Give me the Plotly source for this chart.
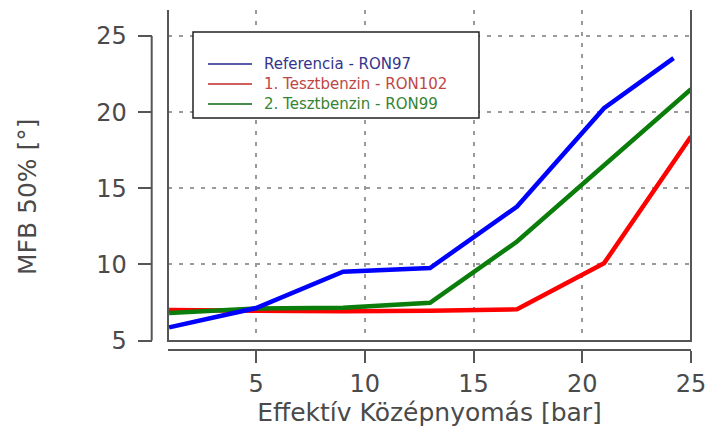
import plotly.graph_objects as go

# ---- data ----
series_names = ["Referencia - RON97", "1. Tesztbenzin - RON102", "2. Tesztbenzin - RON99"]
x_ref = [1, 5, 9, 13, 17, 21, 24.2]
y_ref = [5.86, 7.13, 9.52, 9.76, 13.8, 20.26, 23.55]
x_t1 = [1, 5, 9, 13, 17, 21, 25]
y_t1 = [7.0, 6.95, 6.92, 6.95, 7.05, 10.07, 18.4]
x_t2 = [1, 5, 9, 13, 17, 21, 25]
y_t2 = [6.8, 7.1, 7.15, 7.48, 11.5, 16.5, 21.5]
x_ticks = [5, 10, 15, 20, 25]
y_ticks = [5, 10, 15, 20, 25]
x_title = "Effektív Középnyomás [bar]"
y_title = "MFB 50% [°]"

W, H = 708, 435
def px(v):
    return v / W
def py(v):
    return 1 - v / H

line_colors = ["#0000ff", "#ff0000", "#0a7d0a"]
legend_line_colors = ["#5a5aa8", "#d06060", "#4a8a4a"]
legend_text_colors = ["#34348c", "#c04646", "#348434"]
FONT = "DejaVu Sans"
AX = "#555555"
TXT = "#4a4a4a"

fig = go.Figure()
fig.add_trace(go.Scatter(x=x_t1, y=y_t1, mode="lines", name=series_names[1],
                         line=dict(color=line_colors[1], width=4.5)))
fig.add_trace(go.Scatter(x=x_t2, y=y_t2, mode="lines", name=series_names[2],
                         line=dict(color=line_colors[2], width=4.5)))
fig.add_trace(go.Scatter(x=x_ref, y=y_ref, mode="lines", name=series_names[0],
                         line=dict(color=line_colors[0], width=4.5)))

grid = dict(showgrid=True, gridcolor="#9a9a9a", gridwidth=2, griddash="4px,7px")

fig.update_layout(
    width=W, height=H,
    margin=dict(l=0, r=0, t=0, b=0),
    paper_bgcolor="white", plot_bgcolor="white",
    showlegend=False,
    font=dict(family=FONT, color=TXT),
    xaxis=dict(
        domain=[px(168), px(691)], range=[0.95, 25.0],
        anchor="free", position=py(350),
        tickvals=x_ticks, ticks="outside", ticklen=12, tickwidth=2, tickcolor=AX,
        showline=False, zeroline=False, automargin=False,
        tickfont=dict(size=24, family=FONT, color=TXT),
        title=dict(text=x_title, font=dict(size=25, family=FONT, color=TXT), standoff=2),
        **grid,
    ),
    yaxis=dict(
        domain=[py(341), py(10)], range=[4.967, 26.71],
        anchor="free", position=px(151.7),
        tickvals=y_ticks, ticks="outside", ticklen=14, tickwidth=2, tickcolor=AX,
        showline=False, zeroline=False, automargin=False,
        ticklabelstandoff=6,
        tickfont=dict(size=24, family=FONT, color=TXT),
        **grid,
    ),
)

shapes = []
# plot frame (left, bottom, right)
shapes.append(dict(type="path", xref="x domain", yref="y domain",
                   path="M 0,1 L 0,0 L 1,0 L 1,1", line=dict(color=AX, width=2)))
# offset axis lines
shapes.append(dict(type="line", xref="x", yref="paper", x0=0.95, x1=x_ticks[-1],
                   y0=py(350), y1=py(350), line=dict(color=AX, width=2)))
shapes.append(dict(type="line", xref="paper", yref="y", x0=px(151.7), x1=px(151.7),
                   y0=y_ticks[0], y1=y_ticks[-1], line=dict(color=AX, width=2)))
# legend box
shapes.append(dict(type="rect", xref="paper", yref="paper", x0=px(193), x1=px(479),
                   y0=py(118), y1=py(32), line=dict(color="#222222", width=1.5),
                   fillcolor="white", layer="above"))
annotations = [dict(xref="paper", yref="paper", x=px(27), y=py(197), text=y_title,
                    textangle=-90, showarrow=False, xanchor="center", yanchor="middle",
                    font=dict(size=25, family=FONT, color=TXT))]
for i, k in enumerate([0, 1, 2]):
    yy = 64 + 20 * i
    shapes.append(dict(type="line", xref="paper", yref="paper", x0=px(208), x1=px(252),
                       y0=py(yy), y1=py(yy), line=dict(color=legend_line_colors[k], width=2),
                       layer="above"))
    annotations.append(dict(xref="paper", yref="paper", x=px(262), y=py(yy), text=series_names[k],
                            showarrow=False, xanchor="left", yanchor="middle",
                            font=dict(size=15, family=FONT, color=legend_text_colors[k])))
fig.update_layout(shapes=shapes, annotations=annotations)

fig.write_html("out.html")
